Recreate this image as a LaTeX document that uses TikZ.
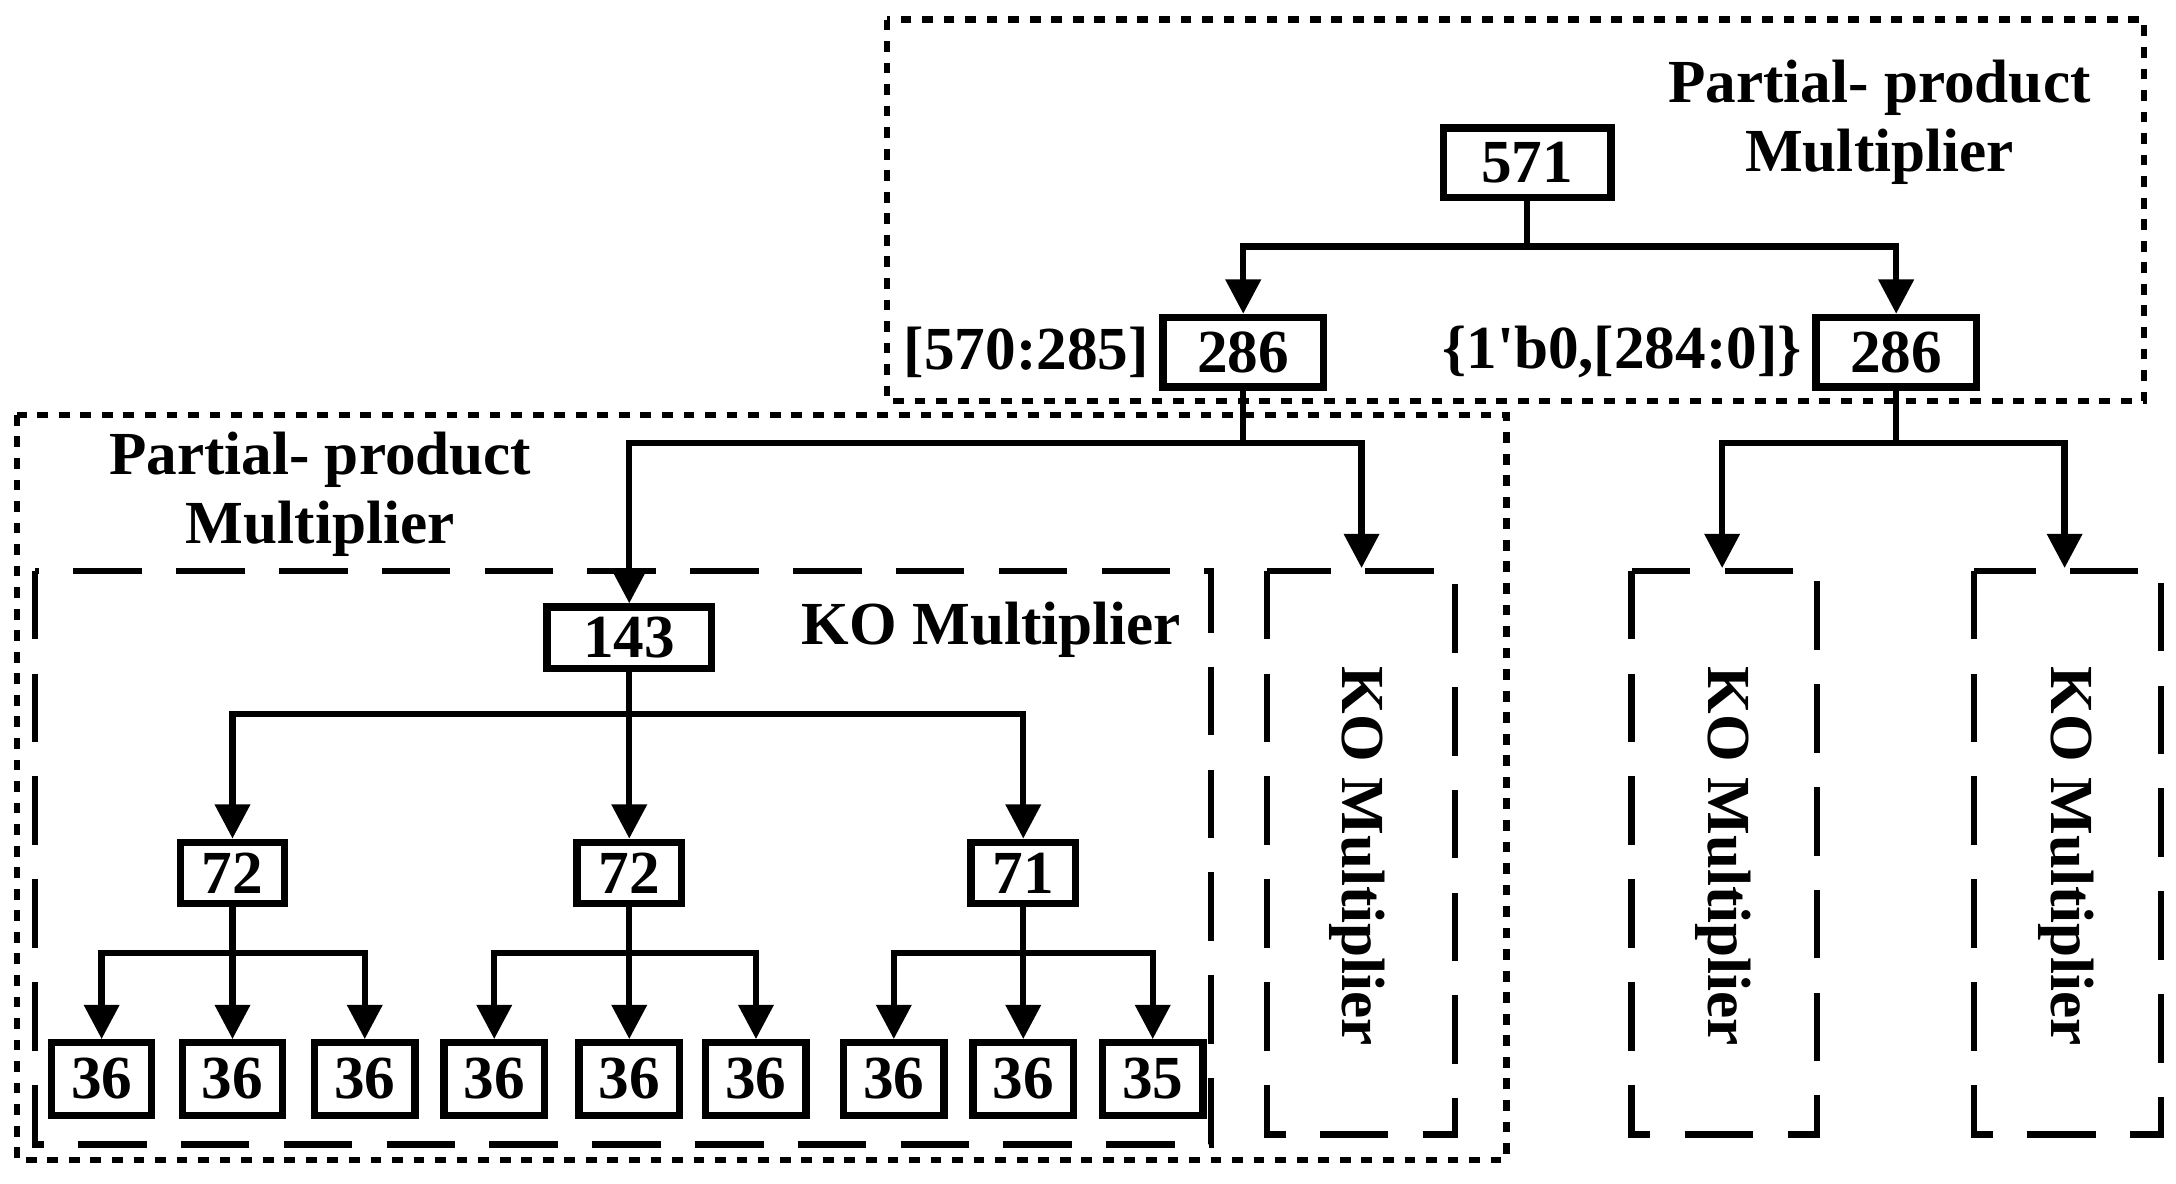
\documentclass[tikz,border=0pt]{standalone}
\usepackage{fontspec}
\setmainfont{Liberation Serif}
\usetikzlibrary{arrows.meta}
\begin{document}
\begin{tikzpicture}[x=0.01cm,y=-0.01cm,
  font=\fontsize{12.5}{14}\selectfont\bfseries,
  box/.style={draw,line width=1.5pt,minimum width=#1,minimum height=0.5cm,inner sep=0pt},
  box/.default=0.75cm,
  conn/.style={line width=1.3pt},
  arr/.style={line width=1.3pt,-{Triangle[length=7pt,width=7pt]}},
  dot/.style={line width=1.3pt,dash pattern=on 2.2pt off 2.2pt},
  dsh/.style={line width=1.3pt,dash pattern=on 14pt off 7pt}]
\useasboundingbox (0,0) rectangle (1563,850);
% frames
\draw[dot] (637,14) rectangle (1540,288);
\draw[dot] (12,298) rectangle (1082,833);
\draw[dsh] (25,410) rectangle (870,822);
\draw[dsh] (910,410) rectangle (1045,815);
\draw[dsh] (1172,410) rectangle (1305,815);
\draw[dsh] (1418,410) rectangle (1552,815);
% nodes
\node[box=1.2cm,minimum height=0.5cm] (n571) at (1097,117) {571};
\node[box=1.15cm] (nL) at (893,253) {286};
\node[box=1.15cm] (nR) at (1362,253) {286};
\node[box=1.18cm,minimum height=0.44cm] (n143) at (452,458) {143};
\node[box,minimum height=0.44cm] (a1) at (167,627) {72};
\node[box,minimum height=0.44cm] (a2) at (452,627) {72};
\node[box,minimum height=0.44cm] (a3) at (735,627) {71};
\foreach \n/\x/\t in {b1/73/36,b2/167/36,b3/262/36,b4/355/36,b5/452/36,b6/543/36,b7/642/36,b8/735/36,b9/828/35}
  \node[box=0.72cm,minimum height=0.52cm] (\n) at (\x,775) {\t};
\coordinate (kL) at (978,408);
\coordinate (kR1) at (1237,408);
\coordinate (kR2) at (1483,408);
% labels
\node[align=center] (t1) at (1350,88) {Partial- product\\Multiplier};
\node[align=center] (t2) at (230,355) {Partial- product\\Multiplier};
\node (t3) at (712,452) {KO Multiplier};
\node[rotate=-90] (t4) at (975,615) {KO Multiplier};
\node[rotate=-90] (t5) at (1238,615) {KO Multiplier};
\node[rotate=-90] (t6) at (1484,615) {KO Multiplier};
\node[anchor=east,inner sep=2pt] (l1) at (nL.west) {[570:285]};
\node[anchor=east,inner sep=2pt] (l2) at (nR.west) {\{1\textquotesingle b0,[284:0]\}};
% connectors
\draw[conn] (n571.south) -- (1097,177);
\draw[arr] (1097,177) -| (nL.north);
\draw[arr] (1097,177) -| (nR.north);
\draw[conn] (nL.south) -- (893,318);
\draw[arr] (893,318) -| (n143.north);
\draw[arr] (893,318) -| (kL);
\draw[conn] (nR.south) -- (1362,318);
\draw[arr] (1362,318) -| (kR1);
\draw[arr] (1362,318) -| (kR2);
\draw[arr] (n143.south) -- (a2.north);
\draw[arr] (452,513) -| (a1.north);
\draw[arr] (452,513) -| (a3.north);
\foreach \p/\l/\m/\r in {a1/b1/b2/b3,a2/b4/b5/b6,a3/b7/b8/b9}{
  \draw[arr] (\p.south) -- (\m.north);
  \path (\p.south) -- ++(0,33) coordinate (h);
  \draw[arr] (h) -| (\l.north);
  \draw[arr] (h) -| (\r.north);
}
\end{tikzpicture}
\end{document}
